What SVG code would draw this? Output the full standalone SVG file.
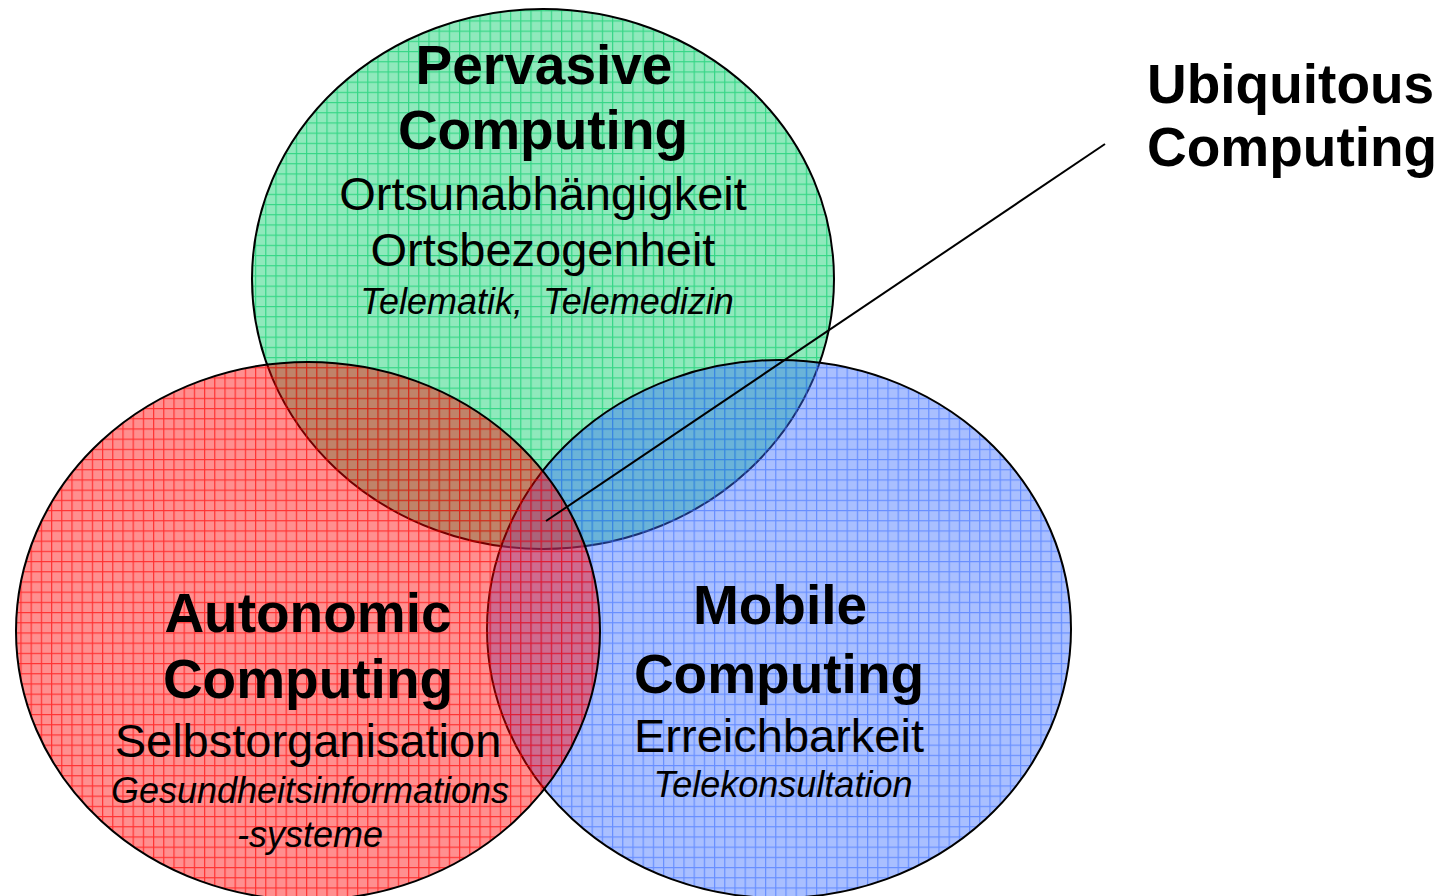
<svg xmlns="http://www.w3.org/2000/svg" width="1442" height="896" viewBox="0 0 1442 896">
<style>
.c{stroke:#000;stroke-width:2}
.b{font-family:"Liberation Sans",Arial,sans-serif;font-weight:bold;font-size:55px;fill:#000;text-anchor:middle}
.r{font-family:"Liberation Sans",Arial,sans-serif;font-size:47px;fill:#000;text-anchor:middle}
.i{font-family:"Liberation Sans",Arial,sans-serif;font-style:italic;font-size:36px;fill:#000;text-anchor:middle}
</style>
<defs>
<pattern id="pg" patternUnits="userSpaceOnUse" width="10.2" height="10.2">
<rect width="10.2" height="10.2" fill="#00cc66" fill-opacity="0.44"/>
<path d="M0.6 0V10.2M0 0.6H10.2" stroke="#00cc66" stroke-opacity="0.62" stroke-width="1.2"/>
</pattern>
<pattern id="pr" patternUnits="userSpaceOnUse" width="10.2" height="10.2">
<rect width="10.2" height="10.2" fill="#ff0000" fill-opacity="0.44"/>
<path d="M0.6 0V10.2M0 0.6H10.2" stroke="#ff0000" stroke-opacity="0.65" stroke-width="1.2"/>
</pattern>
<pattern id="pb" patternUnits="userSpaceOnUse" width="10.2" height="10.2">
<rect width="10.2" height="10.2" fill="#3c6eff" fill-opacity="0.44"/>
<path d="M0.6 0V10.2M0 0.6H10.2" stroke="#3c6eff" stroke-opacity="0.6" stroke-width="1.2"/>
</pattern>
</defs>
<rect width="1442" height="896" fill="#fff"/>
<g id="pervasive">
<ellipse class="c" cx="543" cy="279" rx="291" ry="270" fill="url(#pg)"/>
</g>
<g id="mobile">
<ellipse class="c" cx="779" cy="629" rx="292" ry="269" fill="url(#pb)"/>
</g>
<g id="autonomic">
<ellipse class="c" cx="308" cy="631" rx="292" ry="269" fill="url(#pr)"/>
</g>
<g id="connectors">
<line x1="546" y1="521" x2="1105" y2="144" stroke="#000" stroke-width="2"/>
</g>
<g id="pervasive-text">
<text class="b" x="544" y="84">Pervasive</text>
<text class="b" x="543" y="149">Computing</text>
<text class="r" x="543" y="210">Ortsunabhängigkeit</text>
<text class="r" x="543" y="266">Ortsbezogenheit</text>
<text class="i" x="547" y="314" word-spacing="10">Telematik, Telemedizin</text>
</g>
<g id="autonomic-text">
<text class="b" x="308" y="632">Autonomic</text>
<text class="b" x="308" y="698">Computing</text>
<text class="r" x="308" y="757">Selbstorganisation</text>
<text class="i" x="310" y="803">Gesundheitsinformations</text>
<text class="i" x="310" y="847">-systeme</text>
</g>
<g id="mobile-text">
<text class="b" x="780" y="624">Mobile</text>
<text class="b" x="779" y="693">Computing</text>
<text class="r" x="779" y="752">Erreichbarkeit</text>
<text class="i" x="783" y="797">Telekonsultation</text>
</g>
<g id="ubiquitous">
<text class="b" x="1147" y="103" style="text-anchor:start">Ubiquitous</text>
<text class="b" x="1147" y="166" style="text-anchor:start">Computing</text>
</g>
</svg>
